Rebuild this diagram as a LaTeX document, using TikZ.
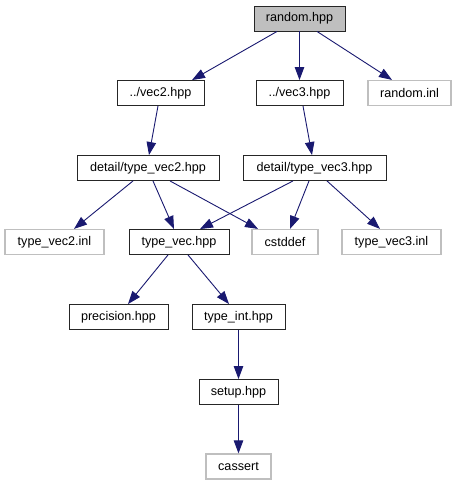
\documentclass[tikz,border=0pt]{standalone}
\usepackage{fontspec}
\setmainfont{Liberation Sans}
\usetikzlibrary{arrows.meta}
\definecolor{edgeblue}{HTML}{191970}
\definecolor{lightgr}{HTML}{BFBFBF}
\begin{document}
\begin{tikzpicture}[x=1pt,y=-1pt,
  box/.style={draw=black!85,line width=0.9pt,minimum height=25pt,inner sep=0pt,font=\fontsize{12.6}{14}\selectfont,fill=white},
  ext/.style={box,draw=lightgr,line width=1.2pt},
  cur/.style={box,fill=lightgr},
  edge/.style={draw=edgeblue,line width=0.9pt,-{Triangle[length=13pt,width=9.5pt]}}]
\useasboundingbox (0,0) rectangle (456,485);
\node[cur,minimum width=91pt] (random) at (299.5,18.5) {random.hpp};
\node[box,minimum width=87pt] (vec2) at (160.5,93) {../vec2.hpp};
\node[box,minimum width=87pt] (vec3) at (299.5,93) {../vec3.hpp};
\node[ext,minimum width=83pt] (rinl) at (409.5,93) {random.inl};
\node[box,minimum width=142pt] (tv2) at (148,168) {detail/type\_vec2.hpp};
\node[box,minimum width=143pt] (tv3) at (314.5,168) {detail/type\_vec3.hpp};
\node[ext,minimum width=99pt] (tv2inl) at (54.5,242) {type\_vec2.inl};
\node[box,minimum width=100pt] (tvec) at (179,242) {type\_vec.hpp};
\node[ext,minimum width=66pt] (cstddef) at (285,242) {cstddef};
\node[ext,minimum width=99pt] (tv3inl) at (391.5,242) {type\_vec3.inl};
\node[box,minimum width=99pt] (prec) at (118.5,317) {precision.hpp};
\node[box,minimum width=93pt] (tint) at (238.5,317) {type\_int.hpp};
\node[box,minimum width=79pt] (setup) at (238.5,392) {setup.hpp};
\node[ext,minimum width=65pt] (cassert) at (238.5,466.5) {cassert};
\draw[edge] ([xshift=-22.5pt]random.south) -- ([xshift=31.5pt]vec2.north);
\draw[edge] (random.south) -- (vec3.north);
\draw[edge] ([xshift=17.5pt]random.south) -- ([xshift=-17.5pt]rinl.north);
\draw[edge] ([xshift=-2.5pt]vec2.south) -- ([xshift=1pt]tv2.north);
\draw[edge] ([xshift=3.5pt]vec3.south) -- ([xshift=-2.5pt]tv3.north);
\draw[edge] ([xshift=-15pt]tv2.south) -- ([xshift=19.5pt]tv2inl.north);
\draw[edge] ([xshift=5pt]tv2.south) -- ([xshift=-5pt]tvec.north);
\draw[edge] ([xshift=22pt]tv2.south) -- ([xshift=-27pt]cstddef.north);
\draw[edge] ([xshift=-21.5pt]tv3.south) -- ([xshift=21pt]tvec.north);
\draw[edge] ([xshift=-5.5pt]tv3.south) -- ([xshift=5pt]cstddef.north);
\draw[edge] ([xshift=12.5pt]tv3.south) -- ([xshift=-11.5pt]tv3inl.north);
\draw[edge] ([xshift=-11pt]tvec.south) -- ([xshift=9.5pt]prec.north);
\draw[edge] ([xshift=9pt]tvec.south) -- ([xshift=-9.5pt]tint.north);
\draw[edge] (tint.south) -- (setup.north);
\draw[edge] (setup.south) -- (cassert.north);
\end{tikzpicture}
\end{document}
